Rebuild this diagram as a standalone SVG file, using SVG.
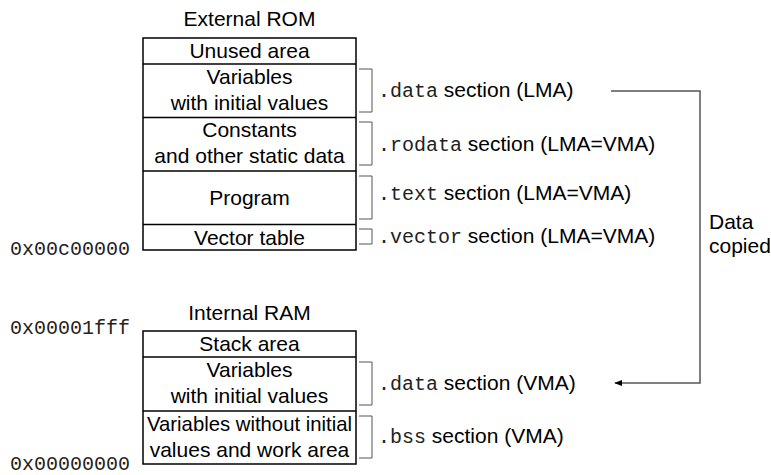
<svg xmlns="http://www.w3.org/2000/svg" width="771" height="475" viewBox="0 0 771 475">
<style>
.box{fill:#fff;stroke:#000;stroke-width:1.5}
.div{stroke:#000;stroke-width:1.5}
.t{font-family:"Liberation Sans",Arial,sans-serif;font-size:21px;fill:#000}
.c{text-anchor:middle}
.m{font-family:"Liberation Mono","Courier New",monospace;font-size:20px;fill:#222}
.br{fill:none;stroke:#555;stroke-width:1}
.con{fill:none;stroke:#555;stroke-width:1.5}
</style>
<defs>
<marker id="ah" viewBox="0 0 10 10" refX="9" refY="5" markerWidth="8" markerHeight="8" markerUnits="userSpaceOnUse" orient="auto">
<path d="M0,1 L10,5 L0,9 z" fill="#000"/>
</marker>
</defs>
<g id="rom">
<text class="t c" x="249.5" y="26">External ROM</text>
<rect class="box" x="143" y="38" width="213" height="212"/>
<line class="div" x1="143" y1="64" x2="356" y2="64"/>
<line class="div" x1="143" y1="117.5" x2="356" y2="117.5"/>
<line class="div" x1="143" y1="171" x2="356" y2="171"/>
<line class="div" x1="143" y1="224.5" x2="356" y2="224.5"/>
<text class="t c" x="249.5" y="58">Unused area</text>
<text class="t c" x="249.5" y="84">Variables</text>
<text class="t c" x="249.5" y="110">with initial values</text>
<text class="t c" x="249.5" y="137">Constants</text>
<text class="t c" x="249.5" y="163">and other static data</text>
<text class="t c" x="249.5" y="205">Program</text>
<text class="t c" x="249.5" y="245">Vector table</text>
<text class="m" x="10" y="255">0x00c00000</text>
</g>
<g id="ram">
<text class="t c" x="249.5" y="320">Internal RAM</text>
<rect class="box" x="143" y="331" width="213" height="133"/>
<line class="div" x1="143" y1="357" x2="356" y2="357"/>
<line class="div" x1="143" y1="411" x2="356" y2="411"/>
<text class="t c" x="249.5" y="351">Stack area</text>
<text class="t c" x="249.5" y="377">Variables</text>
<text class="t c" x="249.5" y="403">with initial values</text>
<text class="t c" x="249.5" y="431" textLength="205" lengthAdjust="spacingAndGlyphs">Variables without initial</text>
<text class="t c" x="249.5" y="457">values and work area</text>
<text class="m" x="10" y="334">0x00001fff</text>
<text class="m" x="10" y="470">0x00000000</text>
</g>
<g id="labels">
<path class="br" d="M359,69 H372 V112 H359"/>
<text x="378" y="97"><tspan class="m">.data</tspan><tspan class="t"> section (LMA)</tspan></text>
<path class="br" d="M359,122 H372 V165 H359"/>
<text x="378" y="151"><tspan class="m">.rodata</tspan><tspan class="t"> section (LMA=VMA)</tspan></text>
<path class="br" d="M359,176 H372 V219 H359"/>
<text x="378" y="200"><tspan class="m">.text</tspan><tspan class="t"> section (LMA=VMA)</tspan></text>
<path class="br" d="M359,229 H372 V244 H359"/>
<text x="378" y="243"><tspan class="m">.vector</tspan><tspan class="t"> section (LMA=VMA)</tspan></text>
<path class="br" d="M359,362 H372 V405 H359"/>
<text x="378" y="390"><tspan class="m">.data</tspan><tspan class="t"> section (VMA)</tspan></text>
<path class="br" d="M359,416 H372 V458 H359"/>
<text x="378" y="443"><tspan class="m">.bss</tspan><tspan class="t"> section (VMA)</tspan></text>
<text class="t" x="709" y="229">Data</text>
<text class="t" x="709" y="253">copied</text>
</g>
<g id="connectors">
<path class="con" d="M611,91 H700 V383 H615" marker-end="url(#ah)"/>
</g>
</svg>
